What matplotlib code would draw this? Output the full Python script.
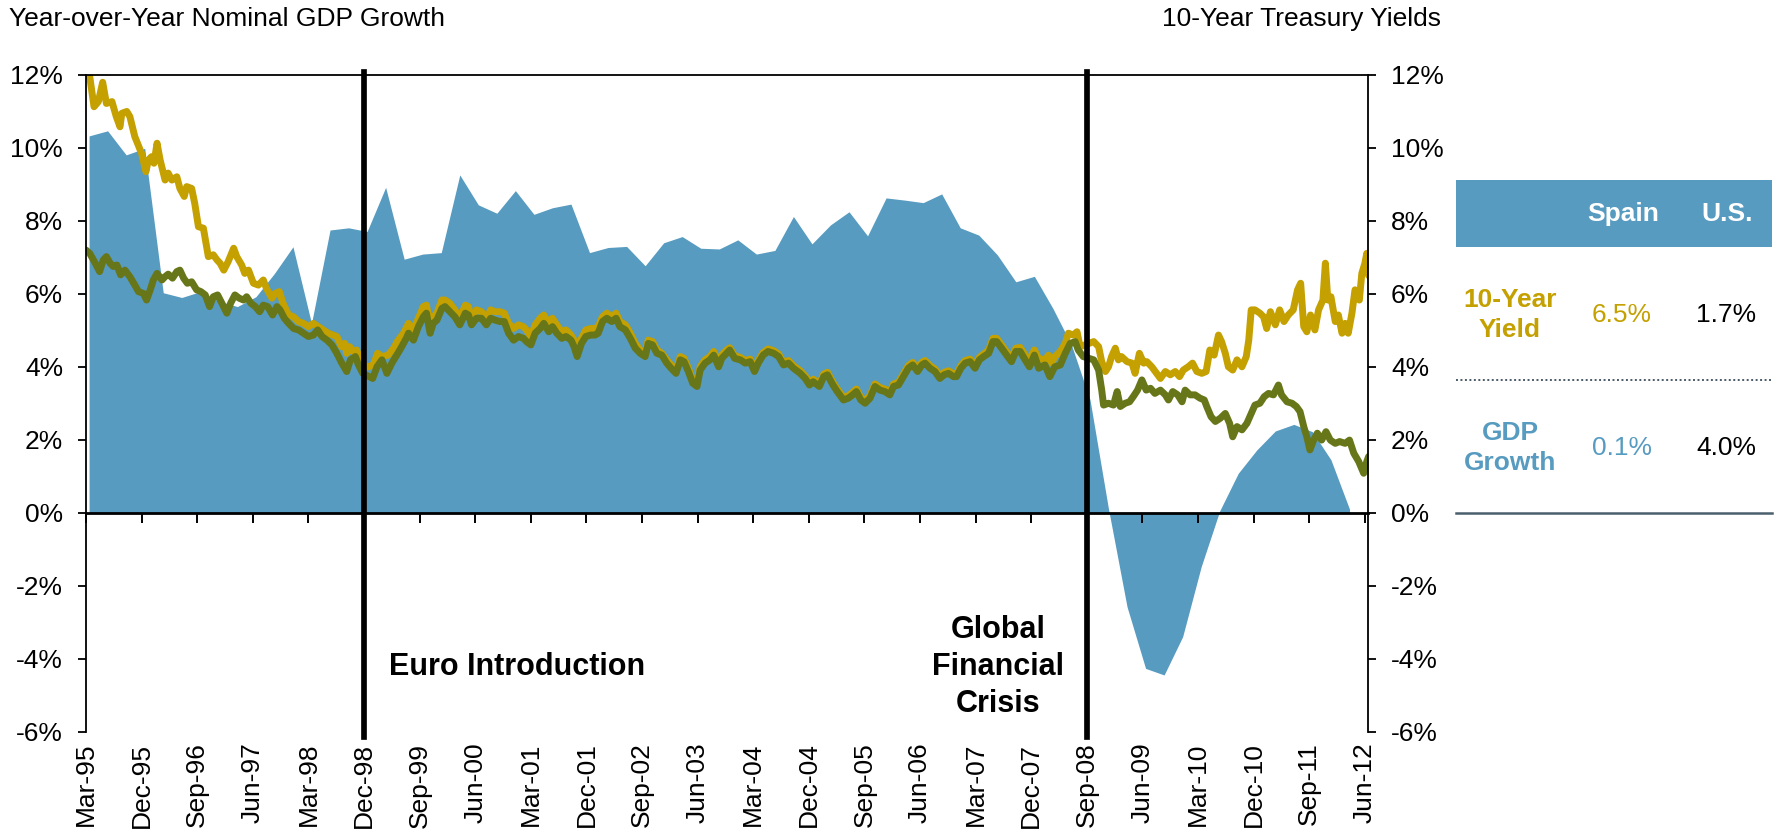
import numpy as np
import matplotlib.pyplot as plt
from matplotlib.patches import Rectangle

plt.rcParams['font.family'] = ['Liberation Sans', 'DejaVu Sans']

BLUE = '#579BC0'
GOLD = '#C4A000'
OLIVE = '#677618'

# x axis in months since Mar-95
tick_labels = ['Mar-95', 'Dec-95', 'Sep-96', 'Jun-97', 'Mar-98', 'Dec-98', 'Sep-99', 'Jun-00',
               'Mar-01', 'Dec-01', 'Sep-02', 'Jun-03', 'Mar-04', 'Dec-04', 'Sep-05', 'Jun-06',
               'Mar-07', 'Dec-07', 'Sep-08', 'Jun-09', 'Mar-10', 'Dec-10', 'Sep-11', 'Jun-12']
tick_months = np.arange(len(tick_labels)) * 9

# Spain year-over-year nominal GDP growth, quarterly from Mar-95
spain_gdp = [10.33, 10.47, 9.81, 9.99, 6.03, 5.90, 6.06, 5.80, 5.65, 5.92, 6.56, 7.29,
             5.19, 7.75, 7.81, 7.71, 8.92, 6.95, 7.09, 7.13, 9.26, 8.44, 8.21, 8.83,
             8.18, 8.36, 8.46, 7.13, 7.27, 7.30, 6.77, 7.40, 7.57, 7.25, 7.23, 7.48,
             7.09, 7.19, 8.12, 7.37, 7.89, 8.25, 7.59, 8.63, 8.57, 8.50, 8.74, 7.81,
             7.61, 7.07, 6.33, 6.48, 5.60, 4.60, 3.10, 0.10, -2.58, -4.27, -4.45, -3.40,
             -1.48, 0.05, 1.08, 1.72, 2.24, 2.42, 2.22, 1.45, 0.10]
gdp_months = np.arange(len(spain_gdp)) * 3 + 0.5

# Spain 10-year yield (month, %)
spain_10y = [
    (0.0, 12.05), (0.6, 11.96), (1.3, 11.13), (2.0, 11.27), (2.7, 11.80), (3.3, 11.22),
    (4.2, 11.27), (4.9, 10.86), (5.5, 10.58), (5.8, 10.95), (6.6, 11.00), (7.1, 10.86),
    (7.9, 10.31), (9.0, 9.85), (9.7, 9.35), (10.1, 9.67), (10.6, 9.76), (11.0, 9.58),
    (11.5, 10.13), (12.0, 9.67), (12.8, 9.12), (13.3, 9.31), (13.9, 9.12), (14.7, 9.21),
    (15.2, 8.89), (15.9, 8.67), (16.3, 8.94), (17.1, 8.89), (17.6, 8.48), (18.2, 7.84),
    (19.0, 7.80), (19.8, 7.02), (20.6, 7.07), (21.2, 6.93), (21.7, 6.84), (22.3, 6.65),
    (23.0, 6.88), (23.9, 7.25), (24.4, 7.02), (25.2, 6.79), (25.7, 6.56), (26.3, 6.65),
    (27.1, 6.29), (27.9, 6.24), (28.7, 6.38), (29.2, 6.15), (30.1, 5.88), (30.6, 6.01),
    (31.3, 6.06), (31.9, 5.74), (32.8, 5.42), (33.6, 5.37), (34.4, 5.24), (35.2, 5.19),
    (36.0, 5.10), (36.8, 5.19), (37.6, 5.10), (38.4, 5.01), (39.2, 4.92), (40.0, 4.87),
    (40.6, 4.83), (41.4, 4.55), (41.9, 4.64), (42.2, 4.37), (42.7, 4.55), (43.3, 4.41),
    (43.8, 4.46), (44.4, 4.19), (44.9, 4.05), (45.7, 4.00), (46.5, 4.05), (47.2, 4.37),
    (47.9, 4.28), (48.9, 4.32), (49.8, 4.51), (50.4, 4.70), (51.4, 4.92), (52.2, 5.19),
    (53.0, 5.01), (53.8, 5.33), (54.6, 5.65), (55.1, 5.69), (55.7, 5.15), (56.2, 5.37),
    (56.8, 5.47), (57.6, 5.83), (58.1, 5.83), (58.9, 5.74), (59.7, 5.56), (60.5, 5.33),
    (61.4, 5.69), (61.9, 5.65), (62.4, 5.33), (63.2, 5.56), (64.0, 5.51), (64.8, 5.33),
    (65.5, 5.56), (66.2, 5.51), (67.0, 5.51), (67.7, 5.47), (68.4, 5.19), (69.2, 5.05),
    (70.0, 5.15), (70.8, 5.10), (71.3, 5.01), (72.0, 4.83), (72.7, 5.15), (73.5, 5.33),
    (74.1, 5.42), (74.9, 5.19), (75.5, 5.33), (76.2, 5.15), (77.0, 4.96), (77.7, 5.01),
    (78.5, 4.87), (79.0, 4.73), (79.5, 4.51), (80.2, 4.78), (80.9, 5.01), (81.7, 5.05),
    (82.4, 5.05), (82.9, 5.10), (83.6, 5.37), (84.3, 5.47), (85.1, 5.37), (85.8, 5.47),
    (86.4, 5.24), (87.3, 5.15), (88.1, 4.92), (88.9, 4.64), (89.7, 4.46), (90.5, 4.37),
    (91.0, 4.73), (91.7, 4.69), (92.4, 4.46), (93.2, 4.37), (94.0, 4.19), (94.7, 4.05),
    (95.5, 3.91), (96.2, 4.28), (96.8, 4.23), (97.5, 3.96), (98.2, 3.64), (98.9, 3.55),
    (99.4, 4.00), (100.2, 4.19), (101.0, 4.28), (101.6, 4.42), (102.4, 4.10), (102.9, 4.32),
    (103.7, 4.46), (104.2, 4.52), (105.0, 4.30), (105.9, 4.26), (106.7, 4.17), (107.5, 4.21),
    (108.2, 3.94), (108.8, 4.17), (109.6, 4.39), (110.4, 4.49), (111.3, 4.44), (112.1, 4.35),
    (112.9, 4.12), (113.7, 4.17), (114.5, 4.03), (115.6, 3.89), (116.4, 3.75), (117.1, 3.57),
    (117.7, 3.66), (118.7, 3.53), (119.4, 3.80), (120.0, 3.85), (120.9, 3.57), (121.6, 3.39),
    (122.6, 3.16), (123.4, 3.21), (124.1, 3.30), (124.7, 3.39), (125.4, 3.16), (126.1, 3.07),
    (126.9, 3.21), (127.7, 3.53), (128.5, 3.43), (129.3, 3.39), (130.1, 3.30), (130.7, 3.53),
    (131.5, 3.57), (132.3, 3.80), (133.1, 4.03), (133.8, 4.12), (134.6, 3.94), (135.3, 4.12),
    (135.8, 4.17), (136.6, 4.03), (137.4, 3.94), (138.2, 3.75), (138.9, 3.85), (139.6, 3.89),
    (140.4, 3.80), (140.9, 3.80), (141.6, 4.03), (142.3, 4.17), (143.1, 4.21), (143.9, 4.03),
    (144.6, 4.26), (145.3, 4.35), (146.1, 4.46), (146.8, 4.78), (147.4, 4.78), (148.2, 4.60),
    (149.0, 4.41), (149.8, 4.23), (150.5, 4.51), (151.2, 4.53), (152.0, 4.32), (152.7, 4.18),
    (153.5, 4.46), (154.2, 4.22), (155.2, 4.19), (155.8, 4.32), (156.3, 4.10), (156.8, 4.28),
    (157.7, 4.42), (158.5, 4.64), (159.0, 4.92), (159.8, 4.87), (160.4, 4.96), (160.9, 4.55),
    (161.7, 4.60), (163.1, 4.69), (163.9, 4.55), (164.4, 4.14), (165.0, 3.87), (165.5, 4.00),
    (166.0, 4.28), (166.6, 4.51), (167.1, 4.19), (167.6, 4.28), (168.5, 4.14), (169.3, 4.10),
    (169.8, 3.82), (170.5, 4.37), (171.2, 4.10), (171.7, 4.14), (172.5, 4.00), (173.3, 3.82),
    (173.9, 3.68), (174.7, 3.87), (175.5, 3.78), (176.3, 3.87), (177.0, 3.73), (177.6, 3.91),
    (178.4, 4.00), (179.1, 4.10), (179.8, 3.87), (180.6, 3.82), (181.3, 3.87), (181.9, 4.46),
    (182.6, 4.32), (183.3, 4.87), (183.8, 4.69), (184.4, 4.37), (184.9, 4.00), (185.6, 3.91),
    (186.3, 4.19), (187.1, 4.00), (187.8, 4.28), (188.2, 4.73), (188.6, 5.56), (189.2, 5.56),
    (190.0, 5.47), (190.6, 5.37), (191.1, 5.05), (191.7, 5.51), (192.5, 5.15), (193.2, 5.56),
    (193.9, 5.24), (194.6, 5.42), (195.4, 5.56), (196.1, 6.11), (196.6, 6.29), (197.1, 5.10),
    (197.6, 4.96), (198.2, 5.42), (198.9, 5.01), (199.5, 5.56), (200.2, 5.83), (200.6, 6.84),
    (201.0, 5.83), (201.5, 5.92), (202.2, 5.24), (202.7, 5.42), (203.3, 4.92), (203.8, 5.19),
    (204.3, 4.92), (204.9, 5.47), (205.4, 6.11), (206.1, 5.83), (206.5, 6.56), (207.0, 6.84),
    (207.3, 7.11), (207.6, 6.50),
]

# U.S. 10-year Treasury yield (month, %)
us_10y = [
    (0.0, 7.20), (0.6, 7.11), (1.5, 6.84), (2.2, 6.61), (2.8, 6.93), (3.3, 7.02),
    (3.9, 6.84), (4.4, 6.75), (5.0, 6.79), (5.6, 6.52), (6.3, 6.65), (7.1, 6.47),
    (7.9, 6.24), (8.5, 6.06), (9.3, 6.01), (9.8, 5.83), (10.4, 6.11), (10.9, 6.38),
    (11.5, 6.56), (12.3, 6.38), (12.8, 6.47), (13.3, 6.54), (14.0, 6.43), (14.7, 6.61),
    (15.2, 6.65), (15.8, 6.43), (16.4, 6.29), (17.1, 6.33), (17.9, 6.11), (18.6, 6.06),
    (19.3, 5.97), (20.0, 5.65), (20.6, 5.92), (21.3, 5.97), (22.0, 5.74), (22.8, 5.47),
    (23.4, 5.74), (24.1, 5.97), (24.8, 5.88), (25.5, 5.83), (26.0, 5.92), (26.7, 5.74),
    (27.4, 5.65), (28.1, 5.51), (28.7, 5.69), (29.4, 5.65), (30.2, 5.42), (30.9, 5.65),
    (31.4, 5.56), (32.1, 5.33), (32.8, 5.19), (33.6, 5.05), (34.4, 5.01), (35.2, 4.92),
    (36.0, 4.83), (36.8, 4.87), (37.5, 5.01), (38.2, 4.83), (39.0, 4.73), (39.8, 4.60),
    (40.6, 4.37), (41.4, 4.10), (42.2, 3.87), (42.8, 4.19), (43.6, 4.28), (44.1, 4.05),
    (44.8, 3.82), (45.6, 3.75), (46.4, 3.68), (47.1, 4.00), (47.9, 4.19), (48.7, 3.82),
    (49.5, 4.10), (50.3, 4.32), (51.1, 4.55), (51.9, 4.80), (52.2, 4.92), (53.0, 4.73),
    (53.8, 5.10), (54.6, 5.37), (55.1, 5.47), (55.7, 4.92), (56.2, 5.19), (56.8, 5.28),
    (57.6, 5.60), (58.1, 5.65), (58.9, 5.51), (59.7, 5.37), (60.5, 5.15), (61.4, 5.47),
    (61.9, 5.42), (62.4, 5.15), (63.2, 5.33), (64.0, 5.33), (64.8, 5.15), (65.5, 5.33),
    (66.2, 5.28), (67.0, 5.24), (67.7, 5.24), (68.4, 4.92), (69.2, 4.73), (70.0, 4.83),
    (70.8, 4.78), (71.3, 4.69), (72.0, 4.60), (72.7, 4.92), (73.5, 5.05), (74.1, 5.19),
    (74.9, 4.96), (75.5, 5.10), (76.2, 4.92), (77.0, 4.78), (77.7, 4.83), (78.5, 4.73),
    (79.0, 4.55), (79.5, 4.28), (80.2, 4.64), (80.9, 4.83), (81.7, 4.87), (82.4, 4.87),
    (82.9, 4.92), (83.6, 5.24), (84.3, 5.33), (85.1, 5.24), (85.8, 5.33), (86.4, 5.10),
    (87.3, 5.01), (88.1, 4.78), (88.9, 4.51), (89.7, 4.37), (90.5, 4.28), (91.0, 4.64),
    (91.7, 4.60), (92.4, 4.37), (93.2, 4.32), (94.0, 4.10), (94.7, 3.96), (95.5, 3.82),
    (96.2, 4.19), (96.8, 4.14), (97.5, 3.87), (98.2, 3.55), (98.9, 3.46), (99.4, 3.91),
    (100.2, 4.10), (101.0, 4.19), (101.6, 4.32), (102.4, 4.00), (102.9, 4.23), (103.7, 4.37),
    (104.2, 4.46), (105.0, 4.23), (105.9, 4.19), (106.7, 4.10), (107.5, 4.14), (108.2, 3.87),
    (108.8, 4.10), (109.6, 4.32), (110.4, 4.42), (111.3, 4.37), (112.1, 4.28), (112.9, 4.05),
    (113.7, 4.10), (114.5, 3.96), (115.6, 3.82), (116.4, 3.68), (117.1, 3.50), (117.7, 3.59),
    (118.7, 3.46), (119.4, 3.73), (120.0, 3.78), (120.9, 3.50), (121.6, 3.32), (122.6, 3.09),
    (123.4, 3.14), (124.1, 3.23), (124.7, 3.32), (125.4, 3.09), (126.1, 3.00), (126.9, 3.14),
    (127.7, 3.46), (128.5, 3.36), (129.3, 3.32), (130.1, 3.23), (130.7, 3.46), (131.5, 3.50),
    (132.3, 3.73), (133.1, 3.96), (133.8, 4.05), (134.6, 3.87), (135.3, 4.05), (135.8, 4.10),
    (136.6, 3.96), (137.4, 3.87), (138.2, 3.68), (138.9, 3.78), (139.6, 3.82), (140.4, 3.73),
    (140.9, 3.73), (141.6, 3.96), (142.3, 4.10), (143.1, 4.14), (143.9, 3.96), (144.6, 4.19),
    (145.3, 4.28), (146.1, 4.37), (146.8, 4.69), (147.4, 4.69), (148.2, 4.51), (149.0, 4.32),
    (149.8, 4.14), (150.5, 4.42), (151.2, 4.42), (152.0, 4.19), (152.7, 4.00), (153.5, 4.32),
    (154.2, 3.96), (155.2, 4.05), (156.0, 3.73), (156.8, 4.00), (157.7, 4.05), (158.5, 4.37),
    (159.3, 4.64), (160.1, 4.69), (160.6, 4.46), (161.4, 4.28), (163.1, 4.19), (163.9, 3.91),
    (164.4, 3.36), (164.7, 2.95), (165.5, 3.00), (166.3, 2.95), (166.9, 3.32), (167.4, 2.91),
    (168.2, 3.00), (168.9, 3.04), (169.5, 3.18), (170.2, 3.36), (170.9, 3.64), (171.6, 3.36),
    (172.3, 3.41), (173.0, 3.27), (173.9, 3.36), (174.7, 3.23), (175.2, 3.09), (175.9, 3.32),
    (176.7, 3.23), (177.4, 3.04), (177.9, 3.36), (178.7, 3.23), (179.5, 3.23), (180.3, 3.14),
    (181.0, 3.09), (181.4, 2.91), (182.1, 2.63), (182.8, 2.50), (183.6, 2.59), (184.4, 2.72),
    (185.1, 2.45), (185.6, 2.08), (186.3, 2.36), (187.1, 2.27), (187.9, 2.45), (188.5, 2.68),
    (189.2, 2.95), (190.0, 3.00), (190.7, 3.18), (191.4, 3.27), (192.2, 3.23), (193.0, 3.50),
    (193.5, 3.23), (194.4, 3.04), (195.2, 3.00), (195.9, 2.91), (196.5, 2.77), (197.1, 2.36),
    (197.6, 2.08), (198.1, 1.72), (198.7, 1.99), (199.3, 2.18), (200.0, 1.99), (200.7, 2.22),
    (201.4, 1.99), (202.2, 1.90), (202.9, 1.95), (203.8, 1.90), (204.5, 1.99), (205.2, 1.63),
    (206.0, 1.40), (206.8, 1.08), (207.3, 1.40), (207.6, 1.54),
]

events = [(45, 'Euro Introduction'), (162, 'Global\nFinancial\nCrisis')]

table_rows = ['10-Year\nYield', 'GDP\nGrowth']
table_colors = [GOLD, BLUE]
spain_latest = [6.5, 0.1]
us_latest = [1.7, 4.0]

W, H = 1779, 833
fig = plt.figure(figsize=(W / 100, H / 100), dpi=100)
ax = fig.add_axes([86 / W, 1 - 731.5 / H, (1368 - 86) / W, (731.5 - 75) / H])

ax.fill_between(gdp_months, spain_gdp, 0, color=BLUE, lw=0, zorder=1)
sx, sy = np.array(spain_10y).T
ux, uy = np.array(us_10y).T
ax.plot(sx, sy, color=GOLD, lw=5, solid_joinstyle='round', solid_capstyle='round', zorder=2)
ax.plot(ux, uy, color=OLIVE, lw=5, solid_joinstyle='round', solid_capstyle='round', zorder=2.1)

for m, _ in events:
    ax.axvline(m, ymin=-0.009, ymax=1.005, color='black', lw=4.1, clip_on=False, zorder=4)

ax.set_xlim(0, 207.5)
ax.set_ylim(-6, 12)

yt = np.arange(-6, 13, 2)
ax.set_yticks(yt)
ax.set_yticklabels([f'{v}%' for v in yt])
ax.tick_params(axis='y', left=True, right=True, labelleft=True, labelright=True,
               direction='out', length=5.5, width=1.3, pad=11, labelsize=19)
ax.set_xticks(tick_months)
ax.set_xticklabels(tick_labels, rotation=90)
ax.tick_params(axis='x', length=0, pad=8, labelsize=19)

for side in ['top', 'left', 'right']:
    ax.spines[side].set_linewidth(1.3)
ax.spines['bottom'].set_visible(False)

# zero line with tick marks
zero = ax.secondary_xaxis(1 / 3)
zero.set_xticks(tick_months)
zero.set_xticklabels([])
zero.tick_params(length=7, width=1.4, direction='out')
zero.spines['bottom'].set_linewidth(2)
zero.set_zorder(3)

ax.text(49.0, -4.23, events[0][1], ha='left', va='center', fontsize=22, fontweight='bold')
ax.text(147.6, -4.23, events[1][1], ha='center', va='center', fontsize=22,
        fontweight='bold', linespacing=1.3)

fig.text(9 / W, 1 - 19 / H, 'Year-over-Year Nominal GDP Growth', ha='left', va='center', fontsize=19)
fig.text(1441 / W, 1 - 19 / H, '10-Year Treasury Yields', ha='right', va='center', fontsize=19)

# side table, drawn in pixel coordinates
tab = fig.add_axes([0, 0, 1, 1])
tab.set_xlim(0, W)
tab.set_ylim(H, 0)
tab.axis('off')
tab.add_patch(Rectangle((1456, 180), 316, 67, color=BLUE, lw=0))
tab.text(1623, 214, 'Spain', ha='center', va='center', fontsize=19, fontweight='bold', color='white')
tab.text(1727, 214, 'U.S.', ha='center', va='center', fontsize=19, fontweight='bold', color='white')
row_y = [315, 448]
for label, col, sp, us, y in zip(table_rows, table_colors, spain_latest, us_latest, row_y):
    tab.text(1510, y, label, ha='center', va='center', fontsize=19, fontweight='bold',
             color=col, linespacing=1.3)
    tab.text(1622, y, f'{sp:.1f}%', ha='center', va='center', fontsize=19, color=col)
    tab.text(1726, y, f'{us:.1f}%', ha='center', va='center', fontsize=19, color='black')
tab.plot([1456, 1771], [380, 380], color='#4A5A66', lw=1.4, ls=(0, (1, 1.3)))
tab.plot([1456, 1772], [513, 513], color='#4A5F6C', lw=1.8)

fig.savefig('out.png', dpi=100)
